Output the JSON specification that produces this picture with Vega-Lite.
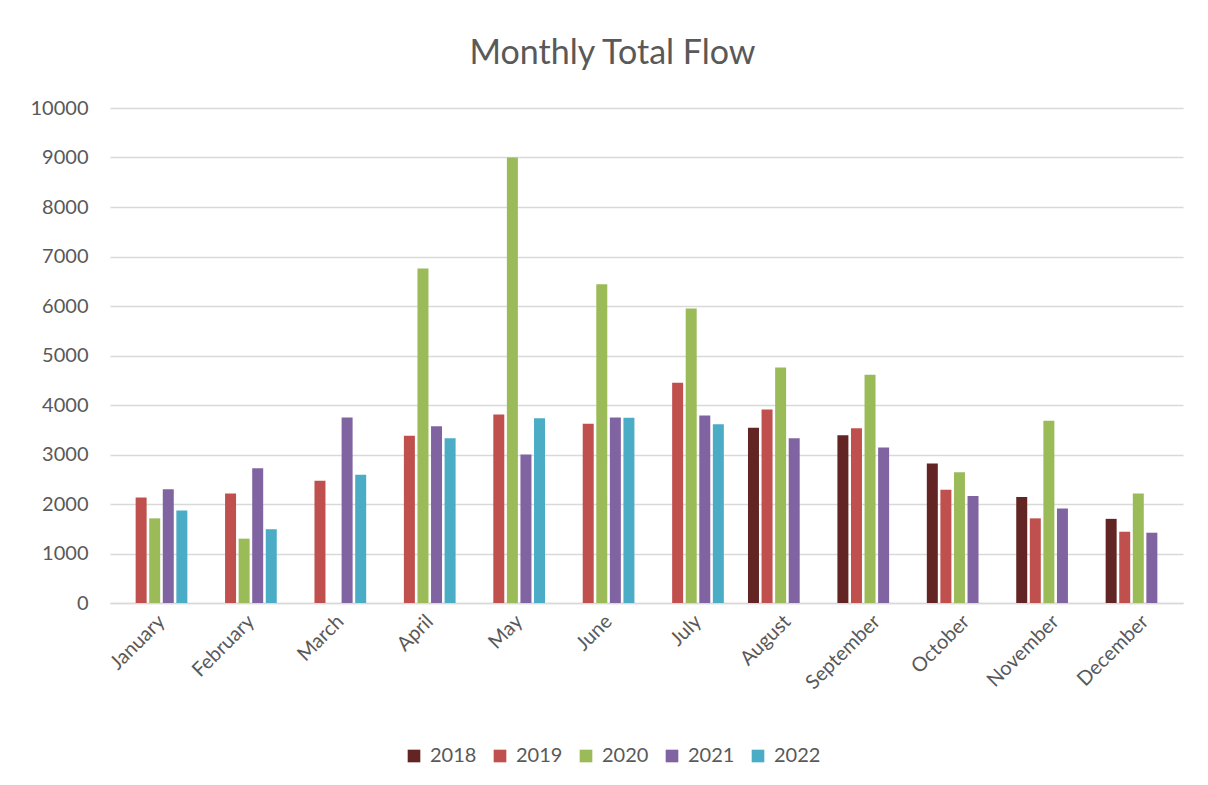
{
  "$schema": "https://vega.github.io/schema/vega-lite/v6.json",
  "width": 1073,
  "height": 495,
  "autosize": {"type": "none"},
  "padding": {"left": 110, "top": 108, "right": 25, "bottom": 182},
  "background": "white",
  "title": {"text": "Monthly Total Flow", "fontSize": 34, "font": "Lato", "fontWeight": "normal", "color": "#595959", "offset": 27, "anchor": "middle", "dx": -34},
  "config": {"view": {"stroke": null}, "font": "Lato"},
  "data": {"values": [
    {"month": "January", "year": "2019", "flow": 2130},
    {"month": "January", "year": "2020", "flow": 1710},
    {"month": "January", "year": "2021", "flow": 2300},
    {"month": "January", "year": "2022", "flow": 1870},
    {"month": "February", "year": "2019", "flow": 2210},
    {"month": "February", "year": "2020", "flow": 1300},
    {"month": "February", "year": "2021", "flow": 2720},
    {"month": "February", "year": "2022", "flow": 1490},
    {"month": "March", "year": "2019", "flow": 2470},
    {"month": "March", "year": "2021", "flow": 3750},
    {"month": "March", "year": "2022", "flow": 2590},
    {"month": "April", "year": "2019", "flow": 3380},
    {"month": "April", "year": "2020", "flow": 6760},
    {"month": "April", "year": "2021", "flow": 3570},
    {"month": "April", "year": "2022", "flow": 3330},
    {"month": "May", "year": "2019", "flow": 3810},
    {"month": "May", "year": "2020", "flow": 9000},
    {"month": "May", "year": "2021", "flow": 3000},
    {"month": "May", "year": "2022", "flow": 3730},
    {"month": "June", "year": "2019", "flow": 3620},
    {"month": "June", "year": "2020", "flow": 6440},
    {"month": "June", "year": "2021", "flow": 3750},
    {"month": "June", "year": "2022", "flow": 3740},
    {"month": "July", "year": "2019", "flow": 4450},
    {"month": "July", "year": "2020", "flow": 5950},
    {"month": "July", "year": "2021", "flow": 3790},
    {"month": "July", "year": "2022", "flow": 3610},
    {"month": "August", "year": "2018", "flow": 3540},
    {"month": "August", "year": "2019", "flow": 3910},
    {"month": "August", "year": "2020", "flow": 4760},
    {"month": "August", "year": "2021", "flow": 3330},
    {"month": "September", "year": "2018", "flow": 3390},
    {"month": "September", "year": "2019", "flow": 3530},
    {"month": "September", "year": "2020", "flow": 4610},
    {"month": "September", "year": "2021", "flow": 3140},
    {"month": "October", "year": "2018", "flow": 2820},
    {"month": "October", "year": "2019", "flow": 2290},
    {"month": "October", "year": "2020", "flow": 2640},
    {"month": "October", "year": "2021", "flow": 2160},
    {"month": "November", "year": "2018", "flow": 2140},
    {"month": "November", "year": "2019", "flow": 1710},
    {"month": "November", "year": "2020", "flow": 3680},
    {"month": "November", "year": "2021", "flow": 1910},
    {"month": "December", "year": "2018", "flow": 1700},
    {"month": "December", "year": "2019", "flow": 1440},
    {"month": "December", "year": "2020", "flow": 2210},
    {"month": "December", "year": "2021", "flow": 1420}
  ]},
  "mark": {"type": "bar"},
  "encoding": {
    "x": {
      "field": "month", "type": "nominal",
      "sort": ["January","February","March","April","May","June","July","August","September","October","November","December"],
      "scale": {"paddingInner": 0.27, "paddingOuter": 0.135},
      "axis": {"title": null, "labelAngle": -45, "labelAlign": "right", "labelBaseline": "top", "labelFontSize": 20, "labelColor": "#595959", "labelFont": "Lato", "ticks": false, "domainColor": "#d9d9d9", "domainWidth": 1.5, "labelPadding": 8}
    },
    "xOffset": {"field": "year", "type": "nominal", "scale": {"domain": ["2018","2019","2020","2021","2022"], "paddingInner": 0.19, "paddingOuter": 0}},
    "y": {
      "field": "flow", "type": "quantitative",
      "scale": {"domain": [0, 10000], "nice": false},
      "axis": {"title": null, "values": [0,1000,2000,3000,4000,5000,6000,7000,8000,9000,10000], "format": "d", "domain": false, "ticks": false, "gridColor": "#d9d9d9", "gridWidth": 1.5, "labelFontSize": 20, "labelColor": "#595959", "labelFont": "Lato", "labelPadding": 22}
    },
    "color": {
      "field": "year", "type": "nominal",
      "scale": {"domain": ["2018","2019","2020","2021","2022"], "range": ["#632523","#C0504D","#9BBB59","#8064A2","#4BACC6"]},
      "legend": {"title": null, "orient": "none", "legendX": 294, "legendY": 638, "direction": "horizontal", "symbolType": "square", "symbolSize": 160, "symbolStrokeWidth": 0, "labelFontSize": 20, "labelColor": "#595959", "labelFont": "Lato", "columnPadding": 13, "labelOffset": 6}
    }
  }
}
